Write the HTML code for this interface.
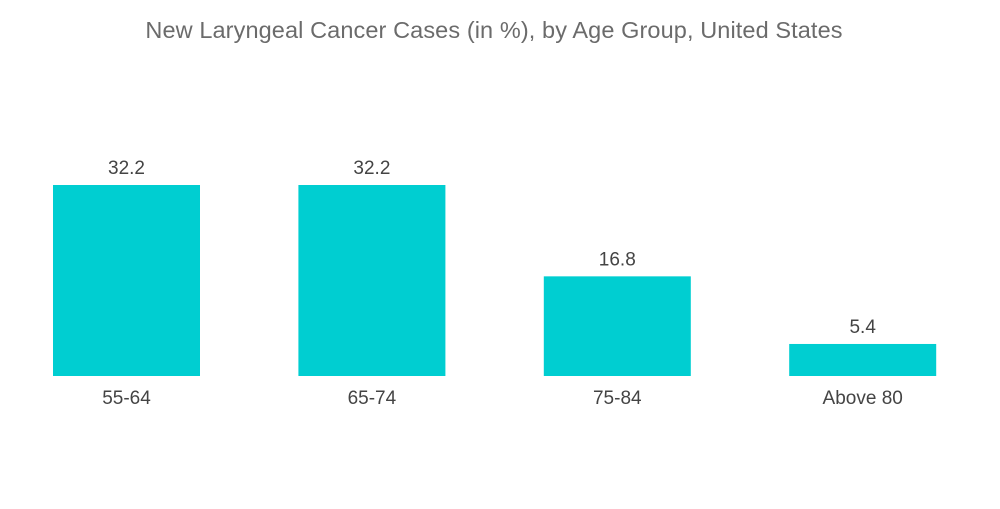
<!DOCTYPE html>
<html><head><meta charset="utf-8">
<style>
html,body{margin:0;padding:0;background:#fff;}
body{width:1000px;height:504px;overflow:hidden;font-family:"Liberation Sans",sans-serif;}
</style></head>
<body>
<svg id="chart" width="1000" height="504" xmlns="http://www.w3.org/2000/svg">
<text x="494" y="38" text-anchor="middle" font-size="23.5" letter-spacing="0.1" fill="#6b6b6b" font-family="Liberation Sans, sans-serif">New Laryngeal Cancer Cases (in %), by Age Group, United States</text>
<g id="bars"></g>
</svg>
<script>
const categories = ["55-64", "65-74", "75-84", "Above 80"];
const values = [32.2, 32.2, 16.8, 5.4];
const valueLabels = ["32.2", "32.2", "16.8", "5.4"];

const svg = document.getElementById('bars');
const NS = 'http://www.w3.org/2000/svg';
const baseY = 376, pxPerUnit = 191 / 32.2;
const firstX = 53, step = 245.4, barW = 147;
function yScale(v){ return baseY - v * pxPerUnit; }
function xScale(i){ return firstX + i * step; }

categories.forEach((c, i) => {
  const x = xScale(i), y = yScale(values[i]);
  const r = document.createElementNS(NS, 'rect');
  r.setAttribute('x', x); r.setAttribute('y', y);
  r.setAttribute('width', barW); r.setAttribute('height', baseY - y);
  r.setAttribute('fill', '#00ced1');
  
  
  svg.appendChild(r);

  const t = document.createElementNS(NS, 'text');
  t.setAttribute('x', x + barW / 2); t.setAttribute('y', y - 11);
  t.setAttribute('text-anchor', 'middle'); t.setAttribute('font-size', '19');
  t.setAttribute('fill', '#444');
  t.textContent = valueLabels[i];
  
  
  svg.appendChild(t);

  const l = document.createElementNS(NS, 'text');
  l.setAttribute('x', x + barW / 2); l.setAttribute('y', 404);
  l.setAttribute('text-anchor', 'middle'); l.setAttribute('font-size', '19');
  l.setAttribute('fill', '#444');
  l.textContent = c;
  
  
  svg.appendChild(l);
});
</script>
</body></html>
